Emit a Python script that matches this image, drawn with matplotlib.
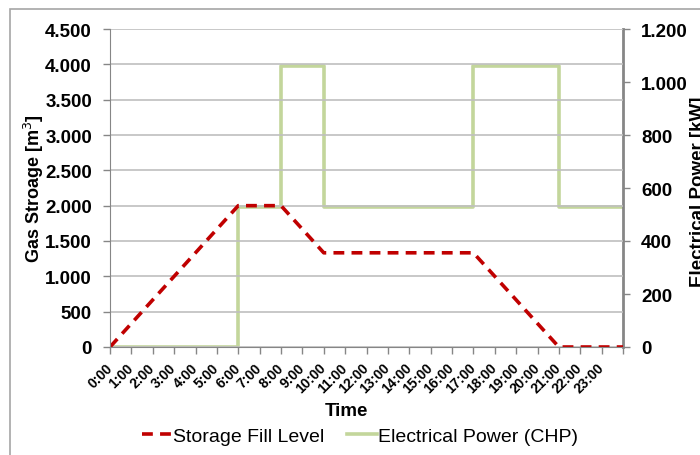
import matplotlib
matplotlib.use("Agg")
import matplotlib.pyplot as plt
from matplotlib.ticker import FuncFormatter, MultipleLocator
from matplotlib.patches import Rectangle

plt.rcParams['font.family'] = ['Liberation Sans', 'DejaVu Sans']

# hourly samples 0:00 .. 24:00
hours = list(range(25))
hour_labels = [f"{h}:00" for h in range(24)]

# gas storage fill level [m3]
storage = [0, 333, 667, 1000, 1333, 1667, 2000, 2000, 2000, 1667, 1333,
           1333, 1333, 1333, 1333, 1333, 1333, 1333, 1000, 667, 333, 0,
           0, 0, 0]

# CHP electrical power [kW], value holds until next hour
power = [0, 0, 0, 0, 0, 0, 530, 530, 1062, 1062, 530, 530, 530, 530, 530,
         530, 530, 1062, 1062, 1062, 1062, 530, 530, 530, 530]

RED = '#C00000'
GREEN = '#C3D69B'
GRID = '#BFBFBF'
AXIS = '#868686'


def dot_thousands(v, pos):
    return f"{int(round(v)):,}".replace(",", ".")


fig = plt.figure(figsize=(7, 4.56), dpi=100)
ax = fig.add_axes([110 / 700, 1 - 348 / 456, 513 / 700, 318 / 456])
ax2 = ax.twinx()

# outer chart frame (cropped on right and bottom)
fig.patches.append(Rectangle((10 / 700, -0.05), 1.0, 1 - 10 / 456 + 0.05,
                             transform=fig.transFigure, fill=False,
                             edgecolor='#A6A6A6', linewidth=1.2))

ax2.plot(hours, power, color=GREEN, linewidth=2.6, drawstyle='steps-post',
         label='Electrical Power (CHP)')
ax.plot(hours, storage, color=RED, linewidth=2.6, linestyle=(0, (3, 2)),
        label='Storage Fill Level')
ax.set_zorder(ax2.get_zorder() + 1)
ax.patch.set_visible(False)

ax.set_xlim(0, 24)
ax.set_ylim(0, 4500)
ax2.set_ylim(0, 1200)
ax.yaxis.set_major_locator(MultipleLocator(500))
ax2.yaxis.set_major_locator(MultipleLocator(200))
ax.yaxis.set_major_formatter(FuncFormatter(dot_thousands))
ax2.yaxis.set_major_formatter(FuncFormatter(dot_thousands))
ax.grid(axis='y', color=GRID, linewidth=1.2)
ax.set_axisbelow(True)

ax.set_xticks(hours)
ax.set_xticklabels(hour_labels + [''], rotation=45, ha='right',
                   va='center', rotation_mode='anchor', fontsize=10,
                   fontweight='bold')

for a in (ax, ax2):
    for s in a.spines.values():
        s.set_visible(False)
    a.tick_params(colors=AXIS, labelcolor='black', length=5, width=1)
ax.tick_params(axis='x', pad=8)
ax.tick_params(axis='y', pad=8)
ax2.tick_params(axis='y', pad=8)
ax.spines['left'].set_visible(True)
ax.spines['left'].set_color(AXIS)
ax.spines['bottom'].set_visible(True)
ax.spines['bottom'].set_color(AXIS)
ax2.spines['right'].set_visible(True)
ax2.spines['right'].set_color(AXIS)
ax2.spines['right'].set_linewidth(2)

for lab in ax.get_yticklabels() + ax2.get_yticklabels():
    lab.set_fontsize(13.5)
    lab.set_fontweight('bold')

ax.set_ylabel('Gas Stroage [m$^3$]', fontsize=13, fontweight='bold')
ax.yaxis.set_label_coords((46 - 110) / 513, 0.5)
fig.text(346 / 700, 1 - 412 / 456, 'Time', fontsize=13.5, fontweight='bold',
         ha='center', va='center')
fig.text(690 / 700, 0.58, 'Electrical Power [kW]', rotation=90,
         fontsize=13.5, fontweight='bold', ha='left', va='center')

h1, l1 = ax.get_legend_handles_labels()
h2, l2 = ax2.get_legend_handles_labels()
fig.legend(h1 + h2, l1 + l2, loc='center', bbox_to_anchor=(360 / 700, 1 - 437 / 456),
           ncol=2, frameon=False, fontsize=14, handlelength=1.55,
           handletextpad=0.05, columnspacing=1.2)

fig.savefig('out.png', dpi=100)
